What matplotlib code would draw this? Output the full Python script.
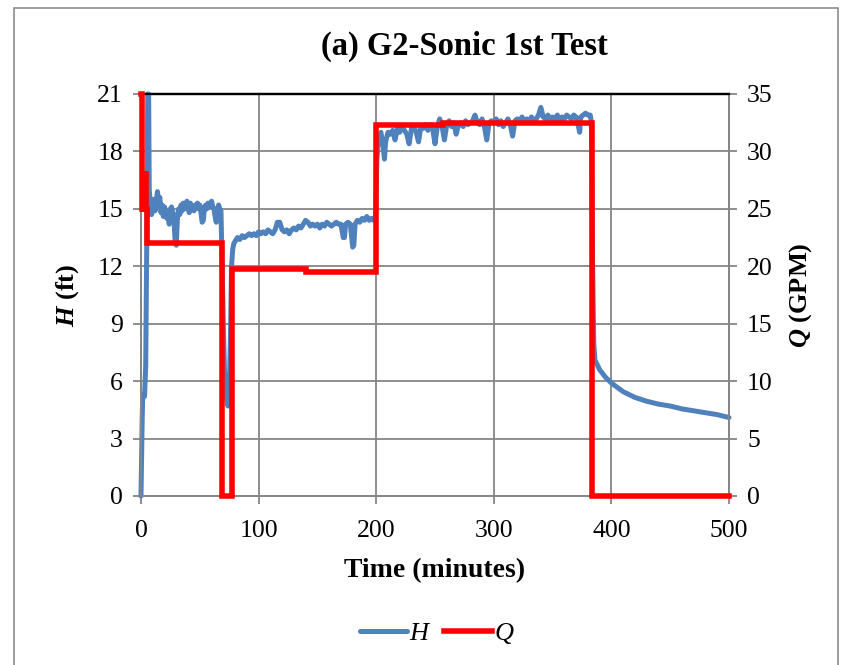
import numpy as np
import matplotlib
matplotlib.use("Agg")
import matplotlib.pyplot as plt
from matplotlib.patches import Rectangle

plt.rcParams['font.family'] = ['Liberation Serif', 'DejaVu Serif']
plt.rcParams['mathtext.fontset'] = 'custom'
plt.rcParams['mathtext.it'] = 'Liberation Serif:italic:bold'
plt.rcParams['mathtext.rm'] = 'Liberation Serif:bold'

# === Data ===
# head H (ft) vs time (minutes)
h_time = [0, 1, 1.5, 3, 4, 5, 5.7, 6.5, 7, 8, 9, 10, 11, 12, 13, 14, 15, 16, 17, 18, 19, 20,
          21, 22, 23, 24, 25, 26, 27, 28, 29, 30, 31, 32, 33, 34, 35, 36, 37, 38, 39, 40,
          41, 42, 43, 44, 45, 46, 47, 48, 49, 50, 51, 52, 53, 54, 55, 56, 57, 58, 59, 60,
          61, 62, 63, 64, 65, 66, 67, 68, 69, 70, 71, 72, 73, 74, 75, 76, 77, 78, 79, 80,
          82, 84, 86, 88, 90, 92, 94, 96, 98, 100, 102, 104, 106, 108, 110, 112, 114, 116,
          118, 120, 122, 124, 126, 128, 130, 132, 134, 136, 138, 140, 142, 144, 146, 148,
          150, 152, 154, 156, 158, 160, 162, 164, 166, 168, 170, 172, 173, 174, 176, 178,
          180, 181, 182, 184, 186, 188, 190, 192, 194, 196, 198, 199.5, 200.5, 202, 204,
          206, 207, 208, 210, 212, 214, 216, 218, 220, 222, 224, 226, 228, 230, 232, 234,
          236, 238, 240, 242, 244, 246, 248, 250, 252, 254, 256, 258, 260, 262, 264, 266,
          268, 270, 272, 274, 276, 278, 280, 282, 284, 286, 288, 290, 292, 294, 296, 298,
          300, 302, 304, 306, 308, 310, 312, 314, 316, 318, 320, 322, 324, 326, 328, 330,
          332, 334, 336, 338, 340, 342, 344, 346, 348, 350, 352, 354, 356, 358, 360, 362,
          364, 366, 368, 370, 372, 373, 374, 376, 378, 380, 382, 383, 384, 385, 386, 390,
          395, 400, 410, 420, 430, 440, 450, 460, 470, 480, 490, 500]
h_value = [0, 4.0, 5.3, 5.2, 6.8, 14.0, 21.0, 21.0, 16.0, 15.2, 14.7, 15.0, 15.5, 14.9, 15.4,
           15.9, 15.4, 15.6, 14.8, 15.2, 14.6, 15.1, 14.9, 14.5, 14.7, 14.2, 15.0, 15.1, 14.8,
           14.5, 13.3, 13.1, 14.6, 15.0, 14.7, 15.2, 14.9, 15.3, 15.0, 15.1, 15.4, 15.2, 14.8,
           15.3, 15.0, 15.1, 14.9, 15.2, 15.0, 15.3, 15.1, 15.2, 14.8, 14.3, 14.4, 15.1, 15.2,
           15.0, 15.3, 15.1, 15.2, 15.4, 15.1, 15.0, 14.6, 14.3, 15.0, 15.2, 15.0, 14.9, 12.0,
           9.0, 6.5, 5.5, 5.0, 4.7, 5.5, 8.0, 12.0, 12.9, 13.2, 13.3,
           13.5, 13.4, 13.6, 13.5, 13.6, 13.7, 13.6, 13.7, 13.6, 13.8, 13.7, 13.8, 13.7, 13.9,
           13.8, 13.7, 13.9, 14.3, 14.3, 13.9, 13.8, 13.9, 13.7, 13.9, 14.0, 13.9, 14.1, 14.0,
           14.2, 14.4, 14.3, 14.1, 14.2, 14.1, 14.2, 14.0, 14.2, 14.1, 14.3, 14.2, 14.1, 14.2,
           14.3, 14.2, 14.2, 13.5, 13.5, 14.2, 14.3, 14.2, 13.0, 13.1, 14.2, 14.4, 14.3, 14.5,
           14.4, 14.6, 14.4, 14.5, 14.4, 14.6, 17.5, 18.8, 19.0,
           18.2, 17.6, 18.5, 19.0, 18.9, 19.1, 18.6, 19.2, 19.0, 19.3, 19.1, 18.9, 18.4, 19.2,
           19.3, 19.0, 18.5, 19.3, 19.2, 19.4, 19.1, 19.4, 19.2, 18.4, 19.3, 19.7, 19.3, 18.6,
           19.4, 19.6, 19.3, 19.5, 18.9, 19.4, 19.5, 19.3, 19.6, 19.4, 19.5, 19.6, 19.9, 19.5,
           19.4, 19.7, 19.3, 18.6, 19.5, 19.6, 19.5, 19.7, 19.4, 19.6, 19.3, 19.5, 19.7, 19.4,
           18.8, 19.6, 19.7, 19.5, 19.8, 19.6, 19.7, 19.5, 19.8, 19.6, 19.7, 19.9, 20.3, 19.8,
           19.7, 19.9, 19.6, 19.8, 19.7, 19.9, 19.6, 19.8, 19.7, 19.9, 19.8, 19.7, 19.9, 19.8,
           19.3, 19.0, 19.8, 19.9, 20.0, 19.9, 19.9, 19.5, 12.0, 8.0, 7.1, 6.6,
           6.2, 5.9, 5.45, 5.15, 4.95, 4.8, 4.7, 4.55, 4.45, 4.35, 4.25, 4.1]

# flow Q (GPM), step changes (value holds until next time)
q_time = [0.3, 1.2, 2.0, 2.8, 3.6, 4.4, 5.5, 68.5, 77, 140, 200, 257, 383.5, 500]
q_value = [35, 25, 28, 25, 28, 25, 22, 0, 19.8, 19.5, 32.3, 32.5, 0, 0]

h_ticks = [0, 3, 6, 9, 12, 15, 18, 21]
q_ticks = [0, 5, 10, 15, 20, 25, 30, 35]
t_ticks = [0, 100, 200, 300, 400, 500]

fig = plt.figure(figsize=(8.51, 6.65), dpi=100)
ax = fig.add_axes([141 / 851, 1 - 496 / 665, 588 / 851, 402 / 665])
ax2 = ax.twinx()

grey = '#868686'
ax.grid(True, color=grey, linewidth=1.3)
ax.set_axisbelow(True)

ax.plot(h_time, h_value, color='#4F81BD', linewidth=3.6, solid_joinstyle='round',
        solid_capstyle='round', clip_on=False, label='H', zorder=3)
ax2.plot(q_time, q_value, color='#FF0000', linewidth=4.0, drawstyle='steps-post',
         solid_joinstyle='miter', clip_on=False, label='Q', zorder=3)

ax.set_xlim(0, 500)
ax.set_ylim(0, 21)
ax2.set_ylim(0, 35)
ax.set_xticks(t_ticks)
ax.set_yticks(h_ticks)
ax2.set_yticks(q_ticks)

for a in (ax, ax2):
    for side in ('left', 'right', 'bottom'):
        a.spines[side].set_color(grey)
        a.spines[side].set_linewidth(1.3)
    a.spines['top'].set_color('black')
    a.spines['top'].set_linewidth(1.6)
    a.tick_params(direction='out', length=6, width=1.3, color=grey,
                  labelsize=18.5, pad=7)
ax.tick_params(axis='x', pad=11)

ax.set_xlabel('Time (minutes)', fontsize=20, fontweight='bold', labelpad=12)
ax.set_ylabel(r'$H$ (ft)', fontsize=19, fontweight='bold', labelpad=12)
ax2.set_ylabel(r'$Q$ (GPM)', fontsize=19, fontweight='bold', labelpad=10, rotation=90)

fig.text(464 / 851, 1 - 46 / 665, '(a) G2-Sonic 1st Test', ha='center', va='center',
         fontsize=23.5, fontweight='bold')

handles = ax.get_lines()[:1] + ax2.get_lines()[:1]
fig.legend(handles, ['H', 'Q'], loc='center', bbox_to_anchor=(0.513, 1 - 633 / 665),
           ncol=2, frameon=False, prop={'style': 'italic', 'size': 19},
           handlelength=1.8, handletextpad=0.1, columnspacing=0.6)

fig.patches.append(Rectangle((14 / 851, -0.05), 824 / 851, 1.05 - 8 / 665,
                             transform=fig.transFigure, fill=False,
                             edgecolor='#8c8c8c', linewidth=1.2))

fig.savefig('out.png', dpi=100)
